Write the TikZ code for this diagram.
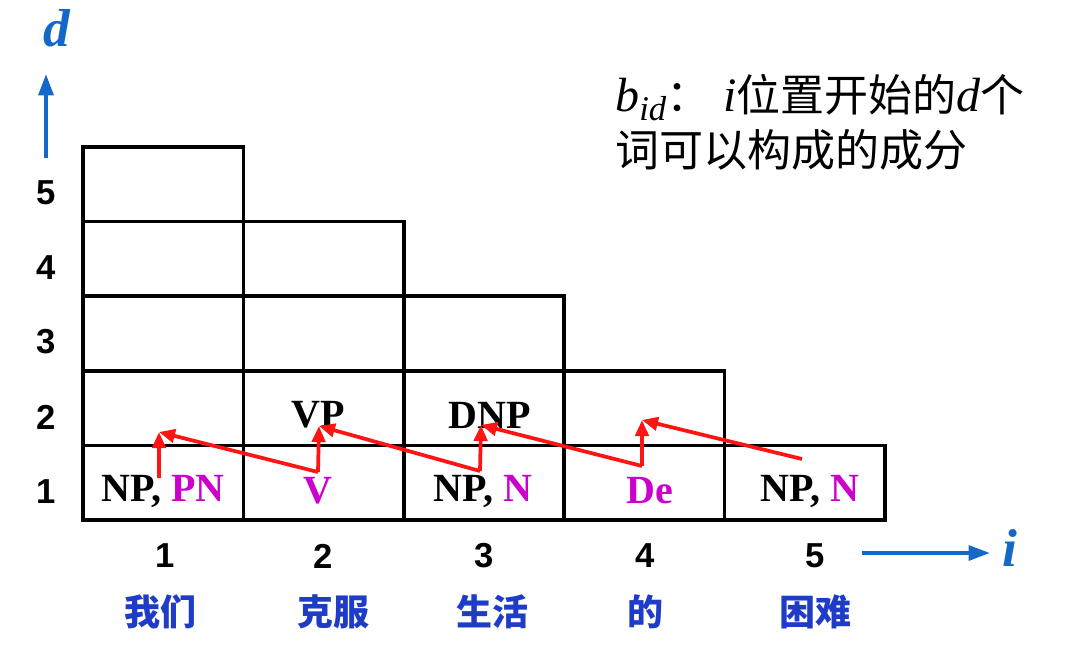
\documentclass[tikz,border=0pt]{standalone}
\usepackage{fontspec}
\setmainfont{Liberation Serif}
\newfontfamily\arialf{Liberation Sans}
\newfontfamily\cjk{Noto Sans CJK SC}
\newfontfamily\serifit{Liberation Serif}[UprightFont=* Italic]
\usetikzlibrary{arrows.meta}
\definecolor{axisblue}{RGB}{20,105,200}
\definecolor{wordblue}{RGB}{30,60,200}
\definecolor{mag}{RGB}{204,0,204}
\definecolor{arrred}{RGB}{255,20,20}
\begin{document}
\begin{tikzpicture}[x=0.75pt,y=-0.75pt,
  cellbox/.style={draw=black,line width=2.8pt,minimum width=120.3pt,minimum height=55.95pt,inner sep=0pt},
  celltext/.style={font=\fontsize{30}{34}\selectfont\bfseries,inner sep=0pt},
  numlab/.style={font=\arialf\fontsize{26}{30}\selectfont\bfseries,inner sep=0pt},
  wordlab/.style={font=\cjk\fontsize{27}{30}\selectfont\bfseries,text=wordblue,inner sep=0pt},
  axisarrow/.style={draw=axisblue,line width=3pt,-{Triangle[length=16pt,width=11pt]}},
  axislab/.style={font=\fontsize{40}{44}\selectfont\bfseries\itshape,text=axisblue,inner sep=0pt},
  redarrow/.style={draw=arrred,line width=2.8pt,-{Triangle[length=12pt,width=10pt]}},
  legend/.style={font=\cjk\fontsize{33}{41}\selectfont,inner sep=0pt,align=left}]
\useasboundingbox (0,0) rectangle (1076,647);
% cells
\foreach \d/\n in {1/5,2/4,3/3,4/2,5/1}{
  \foreach \i in {1,...,\n}{
    \node[cellbox] (c\i\d) at ({83+160.4*(\i-0.5)},{520-74.6*(\d-0.5)}) {};
  }
}
% cell texts
\node[celltext] (t11) at (163,491) {NP, \textcolor{mag}{PN}};
\node[celltext,text=mag] (t21) at (318,491) {V};
\node[celltext] (t31) at (483,491) {NP, \textcolor{mag}{N}};
\node[celltext,text=mag] (t41) at (650,491) {De};
\node[celltext] (t51) at (810,491) {NP, \textcolor{mag}{N}};
\node[celltext] (t22) at (318,415) {VP};
\node[celltext] (t32) at (490,415) {DNP};
% row numbers
\foreach \d/\y in {1/492,2/417,3/342,4/268,5/193}{
  \node[numlab] (r\d) at (46,\y) {\d};
}
% column numbers and words
\node[numlab] (n1) at (165,556) {1};
\node[numlab] (n2) at (323,556) {2};
\node[numlab] (n3) at (484,556) {3};
\node[numlab] (n4) at (645,556) {4};
\node[numlab] (n5) at (815,556) {5};
\node[wordlab] (w1) at (160,612) {我们};
\node[wordlab] (w2) at (333,612) {克服};
\node[wordlab] (w3) at (492,612) {生活};
\node[wordlab] (w4) at (645,612) {的};
\node[wordlab] (w5) at (815,612) {困难};
% axes
\coordinate (dA) at (46,158);
\coordinate (dB) at (46,74);
\draw[axisarrow] (dA) -- (dB);
\node[axislab] (dl) at (57,28) {d};
\coordinate (iA) at (862,553);
\coordinate (iB) at (990,553);
\draw[axisarrow] (iA) -- (iB);
\node[axislab] (il) at (1010,548) {i};
% legend
\node[legend,anchor=north west] (lg) at (615,74) {{\serifit\fontsize{36}{38}\selectfont b}\raisebox{-0.2em}{\serifit\fontsize{26}{26}\selectfont id}：\hspace{0.3em}{\serifit\fontsize{36}{38}\selectfont i}位置开始的{\serifit\fontsize{36}{38}\selectfont d}个\\词可以构成的成分};
% red arrows
\coordinate (B1) at (159,478);
\coordinate (B2) at (318,472);
\coordinate (B3) at (480,471);
\coordinate (B4) at (642,466);
\coordinate (B5) at (802,459);
\coordinate (T1) at (159,432);
\coordinate (T2) at (319,426);
\coordinate (T3) at (481,425);
\coordinate (T4) at (642,420);
\draw[redarrow] (B1) -- (T1);
\draw[redarrow] (B2) -- (T2);
\draw[redarrow] (B3) -- (T3);
\draw[redarrow] (B4) -- (T4);
\draw[redarrow] (B2) -- (T1);
\draw[redarrow] (B3) -- (T2);
\draw[redarrow] (B4) -- (T3);
\draw[redarrow] (B5) -- (T4);
\end{tikzpicture}
\end{document}
